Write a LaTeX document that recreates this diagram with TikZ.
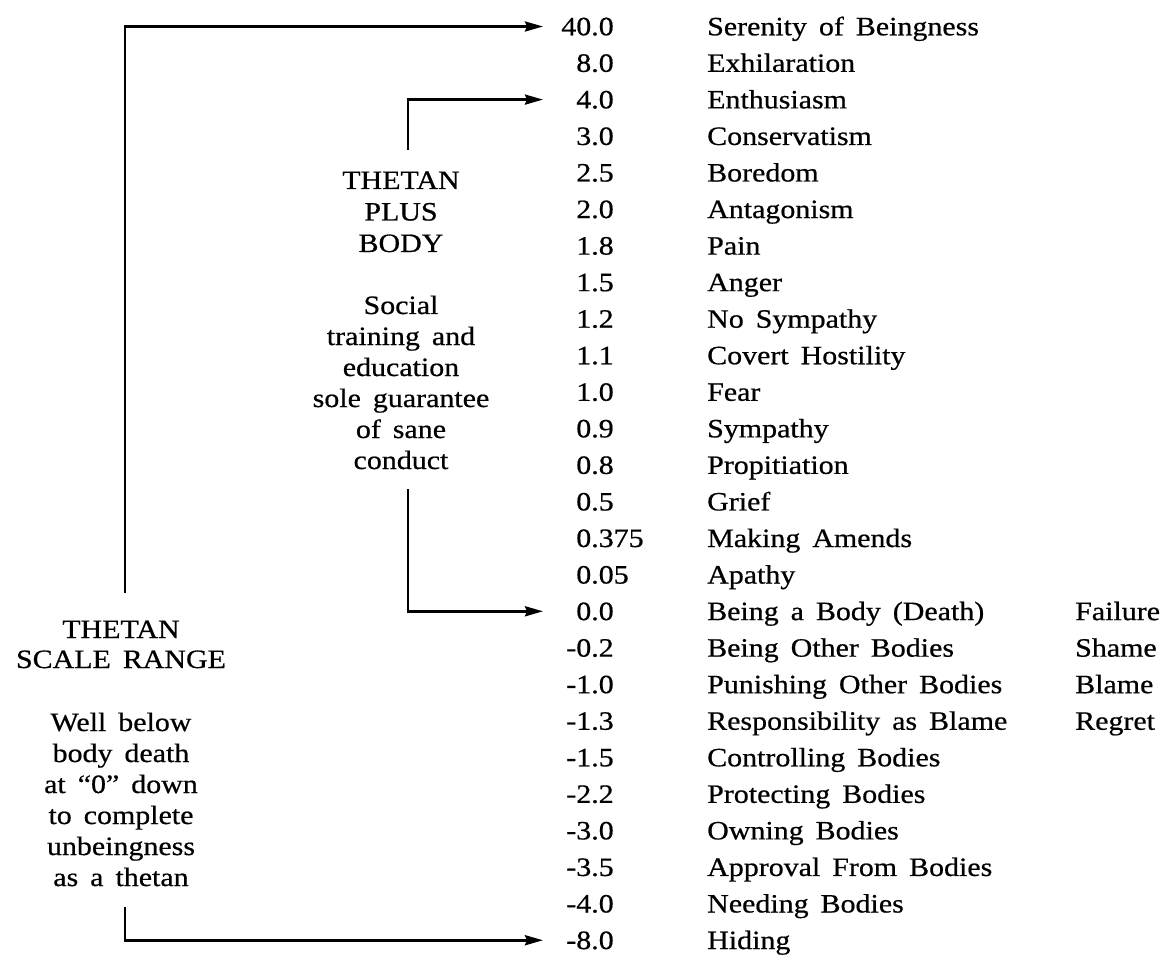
\documentclass[tikz,border=0pt]{standalone}
\usepackage{fontspec}
\setmainfont{Liberation Serif}[FakeStretch=1.13, WordSpace=1.6, FakeBold=0.6]
\usetikzlibrary{arrows.meta}
\begin{document}
\begin{tikzpicture}[x=1pt,y=-1pt,
  txt/.style={inner sep=0pt, font=\fontsize{26.5}{31}\selectfont},
  conn/.style={line width=2.7pt, -{Stealth[length=18pt,width=10pt,inset=2pt]}}]
\useasboundingbox (0,0) rectangle (1172,957);
\fill[white] (0,0) rectangle (1172,957);
% scale rows
\foreach \a/\b/\l [count=\i from 0] in {
  40/0/Serenity of Beingness, 8/0/Exhilaration, 4/0/Enthusiasm,
  3/0/Conservatism, 2/5/Boredom, 2/0/Antagonism, 1/8/Pain, 1/5/Anger,
  1/2/No Sympathy, 1/1/Covert Hostility, 1/0/Fear, 0/9/Sympathy,
  0/8/Propitiation, 0/5/Grief, 0/375/Making Amends, 0/05/Apathy,
  0/0/Being a Body (Death), -0/2/Being Other Bodies,
  -1/0/Punishing Other Bodies, -1/3/Responsibility as Blame,
  -1/5/Controlling Bodies, -2/2/Protecting Bodies, -3/0/Owning Bodies,
  -3/5/Approval From Bodies, -4/0/Needing Bodies, -8/0/Hiding}{
  \node[txt, anchor=base] (v\i) at (595, {35.3+36.55*\i}) {\llap{\a}.\rlap{\b}};
  \node[txt, anchor=base west] (l\i) at (707, {35.3+36.55*\i}) {\l};
  \coordinate (t\i) at (543, {26.5+36.55*\i});
}
\foreach \w/\i in {Failure/16, Shame/17, Blame/18, Regret/19}
  \node[txt, anchor=base west] (r\i) at (1075, {35.3+36.55*\i}) {\w};
% upper left block
\foreach \t/\y [count=\k] in {THETAN/189, PLUS/220.5, BODY/252, Social/314,
  training and/345, education/376, sole guarantee/407, of sane/438, conduct/469}
  \node[txt, anchor=base] (a\k) at (401,\y) {\t};
% lower left block
\foreach \t/\y [count=\k] in {THETAN/638, SCALE RANGE/668, Well below/731,
  body death/762, at “0” down/793, to complete/824, unbeingness/855, as a thetan/886}
  \node[txt, anchor=base] (b\k) at (121,\y) {\t};
% connectors
\coordinate (p1) at (125,593);
\coordinate (p2) at (408,150);
\coordinate (p3) at (408,489);
\coordinate (p4) at (125,907);
\draw[conn] (p1) |- (t0);
\draw[conn] (p2) |- (t2);
\draw[conn] (p3) |- (t16);
\draw[conn] (p4) |- (t25);
\end{tikzpicture}
\end{document}
